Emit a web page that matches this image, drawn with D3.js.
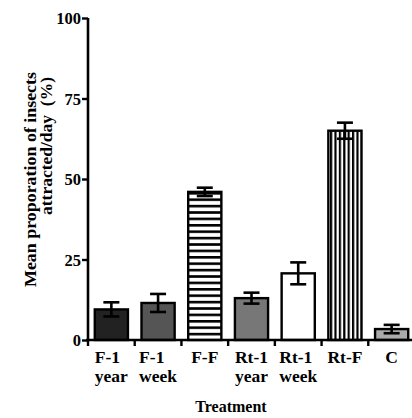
<!DOCTYPE html>
<html>
<head>
<meta charset="utf-8">
<script src="https://cdn.jsdelivr.net/npm/d3@7"></script>
<style>
  html, body { margin: 0; padding: 0; background: #fff; }
  svg { display: block; }
  text { font-family: "Liberation Serif", "Times New Roman", serif; fill: #000; }
</style>
</head>
<body>
<svg id="chart" width="412" height="418"></svg>
<script>
// Treatments, means and error (SE) of insects attracted per day
const categories = ["F-1|year", "F-1|week", "F-F", "Rt-1|year", "Rt-1|week", "Rt-F", "C"];
const means = [9.5, 11.5, 46, 13, 20.7, 65, 3.4];
const errors = [2.2, 2.8, 1.3, 1.7, 3.4, 2.5, 1.3];
const fills = ["#222222", "#555555", "url(#hstripe)", "#777777", "#ffffff", "url(#vstripe)", "#aaaaaa"];
const yTicks = [0, 25, 50, 75, 100];

const svg = d3.select("#chart");

// stripe patterns for the F-F and Rt-F bars
const defs = svg.append("defs");
const hp = defs.append("pattern").attr("id", "hstripe")
  .attr("patternUnits", "userSpaceOnUse").attr("width", 10).attr("height", 6.4);
hp.append("rect").attr("width", 10).attr("height", 6.4).attr("fill", "#fff");
hp.append("rect").attr("y", 0).attr("width", 10).attr("height", 2.6).attr("fill", "#000");
const vp = defs.append("pattern").attr("id", "vstripe")
  .attr("patternUnits", "userSpaceOnUse").attr("width", 4.4).attr("height", 10);
vp.append("rect").attr("width", 4.4).attr("height", 10).attr("fill", "#fff");
vp.append("rect").attr("x", 0).attr("width", 2.2).attr("height", 10).attr("fill", "#000");

const x = d3.scaleBand().domain(categories).range([88, 415])
  .paddingInner(0.29).paddingOuter(0.145);
const y = d3.scaleLinear().domain([0, 100]).range([340, 18]);

// bars
svg.append("g").selectAll("rect").data(categories).join("rect")
  .attr("x", d => x(d))
  .attr("y", (d, i) => y(means[i]))
  .attr("width", x.bandwidth())
  .attr("height", (d, i) => y(0) - y(means[i]))
  .attr("fill", (d, i) => fills[i])
  .attr("stroke", "#000").attr("stroke-width", 2.4);

// error bars
const eb = svg.append("g").attr("stroke", "#000").attr("stroke-width", 2.6);
categories.forEach((d, i) => {
  const cx = x(d) + x.bandwidth() / 2;
  const hi = y(means[i] + errors[i]), lo = y(means[i] - errors[i]);
  eb.append("line").attr("x1", cx).attr("x2", cx).attr("y1", hi).attr("y2", lo);
  eb.append("line").attr("x1", cx - 8).attr("x2", cx + 8).attr("y1", hi).attr("y2", hi);
  eb.append("line").attr("x1", cx - 8).attr("x2", cx + 8).attr("y1", lo).attr("y2", lo);
});

// y axis
const yAxis = svg.append("g").attr("transform", "translate(88,0)")
  .call(d3.axisLeft(y).tickValues(yTicks).tickSize(6).tickPadding(1));
yAxis.select(".domain").attr("stroke-width", 2.6).attr("d", "M0," + y(100) + "V" + (y(0) + 1));
yAxis.selectAll(".tick line").attr("stroke-width", 2.4);
yAxis.selectAll(".tick text")
  .style("font-family", "'Liberation Serif', serif").style("font-size", "16.5px")
  .style("font-weight", "bold").attr("dy", "0.34em");

// x axis with ticks at category boundaries
const step = x.step();
const bounds = categories.map(d => x(d) - step * x.paddingInner() / 2).concat([415]);
const xg = svg.append("g");
xg.append("line").attr("x1", 86).attr("x2", 415).attr("y1", 340).attr("y2", 340)
  .attr("stroke", "#000").attr("stroke-width", 2.6);
xg.selectAll("line.tk").data(bounds).join("line").attr("class", "tk")
  .attr("x1", d => d).attr("x2", d => d).attr("y1", 340).attr("y2", 346)
  .attr("stroke", "#000").attr("stroke-width", 2.4);

// category labels: lines left aligned, block centred under the bar
categories.forEach(d => {
  const parts = d.split("|");
  const cx = x(d) + x.bandwidth() / 2;
  const t = svg.append("text").style("font-size", "17.5px").style("font-weight", "bold");
  parts.forEach((p, k) => {
    t.append("tspan").attr("y", 362.5 + k * 19.5).text(p);
  });
  let w = 0;
  t.selectAll("tspan").each(function () { w = Math.max(w, this.getComputedTextLength()); });
  t.selectAll("tspan").attr("x", cx - w / 2);
});

// axis titles
svg.append("text").attr("x", 231).attr("y", 412).attr("text-anchor", "middle")
  .style("font-size", "16px").style("font-weight", "bold").text("Treatment");
svg.append("text").attr("transform", "translate(36,287) rotate(-90)").attr("text-anchor", "start")
  .style("font-size", "17.5px").style("font-weight", "bold")
  .attr("textLength", 215).attr("lengthAdjust", "spacingAndGlyphs")
  .text("Mean proporation of insects");
svg.append("text").attr("transform", "translate(52,215) rotate(-90)").attr("text-anchor", "start")
  .style("font-size", "17.5px").style("font-weight", "bold").style("white-space", "pre")
  .attr("textLength", 138).attr("lengthAdjust", "spacingAndGlyphs")
  .text("attracted/day  (%)");
</script>
</body>
</html>
